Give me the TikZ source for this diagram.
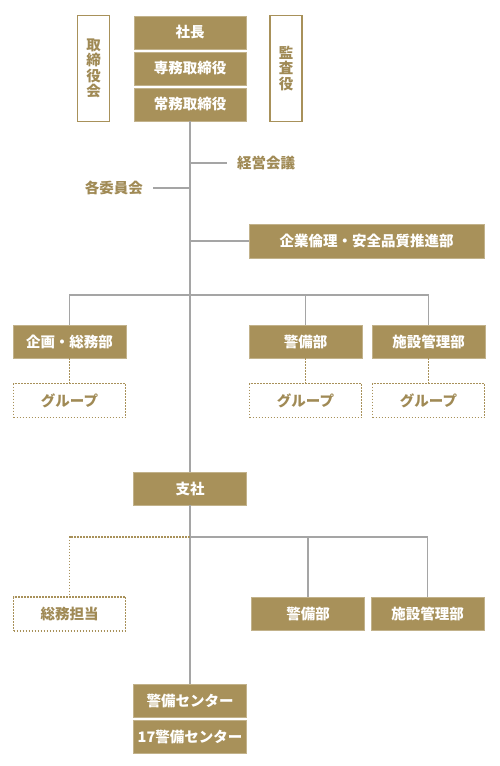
\documentclass[tikz,border=0pt]{standalone}
\usepackage{fontspec}
\setmainfont{Noto Sans CJK JP}
\definecolor{gold}{HTML}{A8915A}
\definecolor{goldtxt}{HTML}{A08A55}
\definecolor{lgray}{HTML}{A5A5A5}
\tikzset{
  gbox/.style={fill=gold, draw=gold!70!white, line width=0.6pt, text=white, font=\fontsize{14.5}{16}\selectfont\bfseries, minimum width=113pt, minimum height=33pt, inner sep=0pt, align=center},
  obox/.style={fill=white, draw=gold, line width=1.8pt, text=goldtxt, font=\fontsize{14.5}{15.5}\selectfont\bfseries, minimum width=32pt, minimum height=106pt, inner sep=0pt, align=center},
  dbox/.style={fill=white, draw=gold, line width=1.7pt, dash pattern=on 1.6pt off 1.4pt, text=goldtxt, font=\fontsize{14.5}{16}\selectfont\bfseries, minimum width=112pt, minimum height=34pt, inner sep=0pt},
  lbl/.style={text=goldtxt, font=\fontsize{14.5}{16}\selectfont\bfseries, inner ysep=0pt, inner xsep=10pt},
  gline/.style={draw=lgray, line width=1.6pt},
  dline/.style={draw=gold, line width=1.7pt, dash pattern=on 1.6pt off 1.4pt},
}
\begin{document}
\begin{tikzpicture}[x=1pt, y=-1pt]
\useasboundingbox (0,0) rectangle (500,766);
% top
\node[gbox, minimum width=112pt] (shacho) at (190,32.5) {社長};
\node[gbox, minimum width=112pt] (senmu) at (190,68.5) {専務取締役};
\node[gbox, minimum width=112pt] (jomu) at (190,104.5) {常務取締役};
\node[obox] (torikai) at (93.5,68.5) {取\\締\\役\\会};
\node[obox] (kansa) at (286,68.5) {監\\査\\役};
% side labels
\node[lbl, anchor=west] (keiei) at (227,163) {経営会議};
\node[lbl, anchor=east] (iinkai) at (153,188) {各委員会};
\node[gbox, minimum width=235pt, minimum height=34pt] (rinri) at (366.5,241) {企業倫理・安全品質推進部};
% row 1
\node[gbox] (kikaku) at (69.5,341.5) {企画・総務部};
\node[gbox] (keibi1) at (305.5,341.5) {警備部};
\node[gbox] (shisetsu1) at (428.5,341.5) {施設管理部};
\node[dbox] (g1) at (69.5,400.5) {グループ};
\node[dbox] (g2) at (305.5,400.5) {グループ};
\node[dbox] (g3) at (428.5,400.5) {グループ};
% branch office
\node[gbox] (shisha) at (190,488.5) {支社};
\node[dbox] (somu) at (69.5,614) {総務担当};
\node[gbox] (keibi2) at (308,614) {警備部};
\node[gbox] (shisetsu2) at (427.5,614) {施設管理部};
\node[gbox] (center) at (190,700.5) {警備センター};
\node[gbox] (center17) at (190,736.5) {17警備センター};
% coordinates on trunk
\coordinate (t1) at (190,163);
\coordinate (t2) at (190,188);
\coordinate (t3) at (190,241);
\coordinate (t4) at (190,295);
\coordinate (t5) at (190,537);
% connectors
\draw[gline] (jomu.south) -- (shisha.north);
\draw[gline] (shisha.south) -- (center.north);
\draw[gline] (t1) -- (keiei.west);
\draw[gline] (iinkai.east) -- (t2);
\draw[gline] (t3) -- (rinri.west);
\draw[gline] (kikaku.north) |- (t4) -| (shisetsu1.north);
\draw[gline] (t4) -| (keibi1.north);
\draw[dline] (kikaku.south) -- (g1.north);
\draw[dline] (keibi1.south) -- (g2.north);
\draw[dline] (shisetsu1.south) -- (g3.north);
\draw[gline] (t5) -| (shisetsu2.north);
\draw[gline] (t5) -| (keibi2.north);
\draw[dline] (t5) -| (somu.north);
\end{tikzpicture}
\end{document}
